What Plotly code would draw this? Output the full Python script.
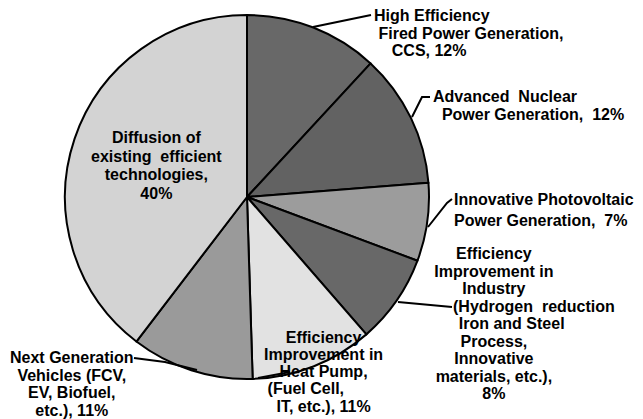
import plotly.graph_objects as go

W, H = 643, 419

# ---- data ----
categories = [
    "High Efficiency Fired Power Generation, CCS",
    "Advanced Nuclear Power Generation",
    "Innovative Photovoltaic Power Generation",
    "Efficiency Improvement in Industry",
    "Efficiency Improvement in Heat Pump",
    "Next Generation Vehicles",
    "Diffusion of existing efficient technologies",
]
values = [12, 12, 7, 8, 11, 11, 40]
slice_colors = ["#686868", "#626262", "#9c9c9c", "#686868", "#e2e2e2", "#9a9a9a", "#d3d3d3"]

NB = "\u00a0"
label_lines = [
    ["High Efficiency", NB + "Fired Power Generation,", NB * 4 + "CCS, {v}%"],
    ["Advanced" + NB + " Nuclear", NB * 2 + "Power Generation," + NB + " {v}%"],
    ["Innovative Photovoltaic", "Power Generation," + NB + " {v}%"],
    ["Efficiency", "Improvement in", "Industry", NB * 18 + "(Hydrogen" + NB + " reduction",
     NB * 8 + "Iron and Steel", "Process,", "Innovative", "materials, etc.),", "{v}%"],
    ["Efficiency", "Improvement in", "Heat Pump,", "(Fuel Cell," + NB * 8, "IT, etc.), {v}%"],
    ["Next Generation", "Vehicles (FCV,", "EV, Biofuel,", "etc.), {v}%"],
    ["Diffusion of", "existing" + NB + " efficient", "technologies,", "{v}%"],
]

# label layout (pixel positions): x, y(middle), xanchor, align, line-spacing font size
label_pos = [
    (373, 32.5, "left", "left", 13.5),
    (432, 106, "left", "left", 13.5),
    (453, 209.5, "left", "left", 16),
    (494, 323.5, "center", "center", 13.5),
    (323, 372, "center", "center", 13.2),
    (72, 384, "center", "center", 13.5),
    (156, 165, "center", "center", 14.4),
]

# leader line paths in pixel coordinates
leaders = [
    [(313, 27), (371, 15)],
    [(412, 117), (422, 97), (430, 97)],
    [(428, 227), (447, 203), (452, 199)],
    [(398, 302), (452, 307)],
    [(258, 378), (290, 372)],
    [(134, 358), (165, 362), (197, 370)],
]


def px(x):
    return x / W


def py(y):
    return 1 - y / H


cx, cy, r = 247, 197, 182

fig = go.Figure(
    go.Pie(
        labels=categories,
        values=values,
        sort=False,
        direction="clockwise",
        rotation=0,
        textinfo="none",
        hoverinfo="label+percent",
        marker=dict(colors=slice_colors, line=dict(color="black", width=2)),
        domain=dict(x=[px(cx - r), px(cx + r)], y=[py(cy + r), py(cy - r)]),
        showlegend=False,
    )
)

annotations = []
for lines, v, (x, y, xa, al, fs) in zip(label_lines, values, label_pos):
    txt = "<br>".join('<span style="font-size:16px">' + ln.format(v=v) + "</span>" for ln in lines)
    annotations.append(
        dict(
            text=txt,
            x=px(x),
            y=py(y),
            xref="paper",
            yref="paper",
            xanchor=xa,
            yanchor="middle",
            align=al,
            showarrow=False,
            borderpad=0,
            font=dict(family="Liberation Sans, Arial, sans-serif", size=fs, color="black", weight="bold"),
        )
    )

shapes = []
for pts in leaders:
    path = "M " + " L ".join(f"{px(x)},{py(y)}" for x, y in pts)
    shapes.append(dict(type="path", path=path, xref="paper", yref="paper",
                       line=dict(color="black", width=2)))

fig.update_layout(
    width=W,
    height=H,
    margin=dict(l=0, r=0, t=0, b=0),
    paper_bgcolor="white",
    plot_bgcolor="white",
    annotations=annotations,
    shapes=shapes,
)

fig.write_html(
    "out.html",
    config={"displayModeBar": False},
    post_script="document.body.style.margin='0';document.body.style.overflow='hidden';",
)
